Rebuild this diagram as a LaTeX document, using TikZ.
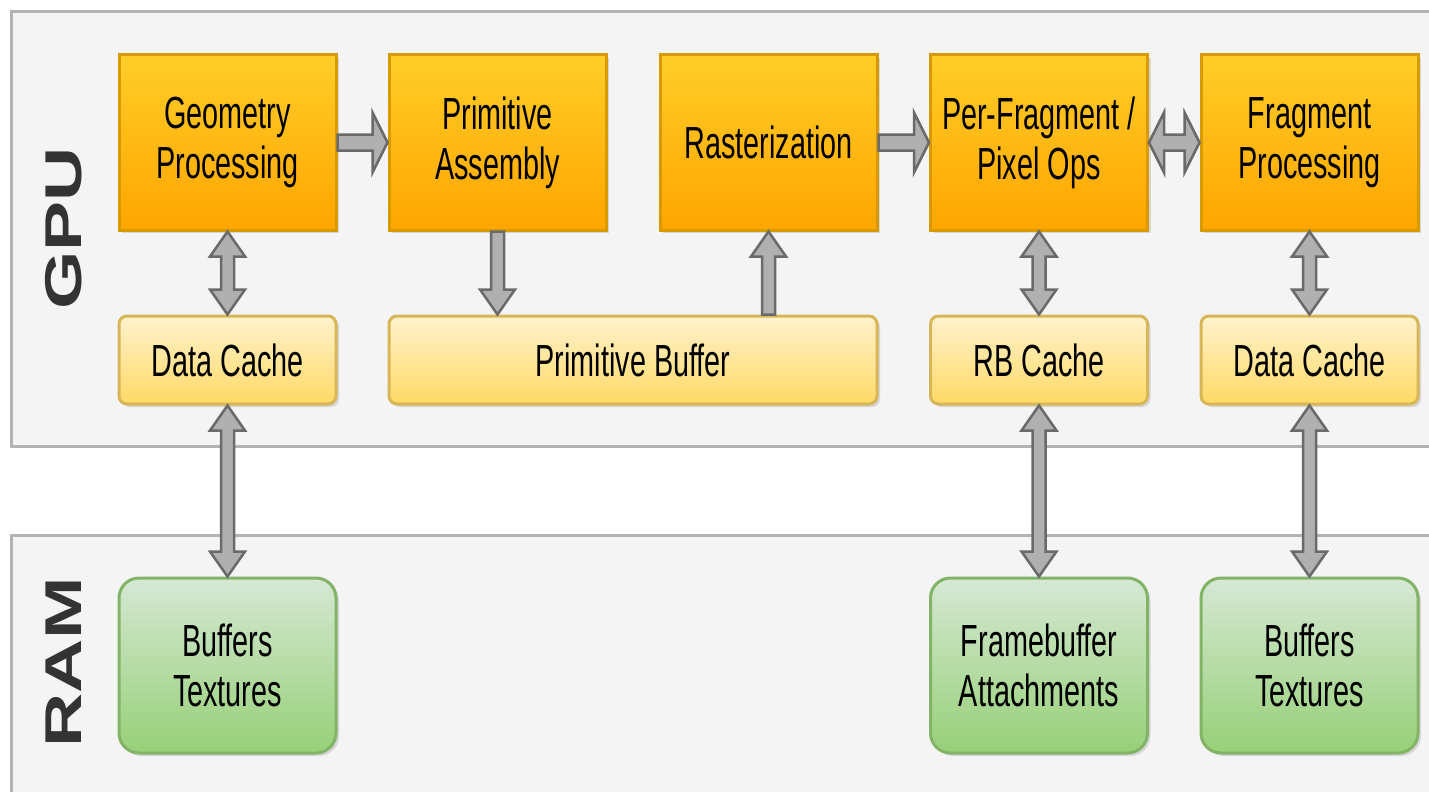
\documentclass[tikz,border=0pt]{standalone}
\usepackage{fontspec}
\setmainfont{Liberation Sans}[FakeStretch=0.64]
\newfontfamily\labfont{Liberation Sans}
\usetikzlibrary{calc,shadows}
\definecolor{panelfill}{HTML}{F4F4F4}
\definecolor{panelline}{HTML}{B3B3B3}
\definecolor{orgtop}{HTML}{FFCD28}
\definecolor{orgbot}{HTML}{FFA500}
\definecolor{orgline}{HTML}{D79B00}
\definecolor{yeltop}{HTML}{FFF2CC}
\definecolor{yelbot}{HTML}{FFD966}
\definecolor{yelline}{HTML}{D6B656}
\definecolor{grntop}{HTML}{D5E8D4}
\definecolor{grnbot}{HTML}{97D077}
\definecolor{grnline}{HTML}{82B366}
\definecolor{afill}{HTML}{B0B0B0}
\definecolor{astroke}{HTML}{6A6A6A}
\definecolor{labcol}{HTML}{333333}
\tikzset{
  panel/.style={draw=panelline, fill=panelfill, line width=3pt},
  shad/.style={drop shadow={shadow xshift=3pt, shadow yshift=-3pt, opacity=0.12, fill=black}},
  boxtext/.style={inner sep=0pt, align=center, text=black, font=\fontsize{45}{50}\selectfont},
  stage/.style={boxtext, shad, draw=orgline, line width=3pt, top color=orgtop, bottom color=orgbot, minimum width=217pt, minimum height=175pt},
  cachebox/.style={boxtext, shad, draw=yelline, line width=3pt, rounded corners=8pt, top color=yeltop, bottom color=yelbot, minimum width=217pt, minimum height=88pt},
  membox/.style={boxtext, shad, draw=grnline, line width=3pt, rounded corners=20pt, top color=grntop, bottom color=grnbot, minimum width=217pt, minimum height=175pt},
  grouplabel/.style={inner sep=0pt, text=labcol, font=\labfont\fontsize{75}{75}\selectfont\bfseries},
  flex/.style={draw=astroke, fill=afill, line width=2.5pt, line join=miter},
  vboth/.style={flex, to path={let \p1=(\tikztostart), \p2=(\tikztotarget) in
     (\x1,\y1) -- ({\x1+17.5pt},{\y1-25pt}) -- ({\x1+6.5pt},{\y1-25pt}) -- ({\x1+6.5pt},{\y2+25pt})
     -- ({\x1+17.5pt},{\y2+25pt}) -- (\x1,\y2) -- ({\x1-17.5pt},{\y2+25pt}) -- ({\x1-6.5pt},{\y2+25pt})
     -- ({\x1-6.5pt},{\y1-25pt}) -- ({\x1-17.5pt},{\y1-25pt}) -- cycle}},
  vone/.style={flex, to path={let \p1=(\tikztostart), \p2=(\tikztotarget), \n1={sign(\y1-\y2)} in
     ({\x1-6.5pt},\y1) -- ({\x1-6.5pt},{\y2+\n1*25pt}) -- ({\x1-17.5pt},{\y2+\n1*25pt}) -- (\x1,\y2)
     -- ({\x1+17.5pt},{\y2+\n1*25pt}) -- ({\x1+6.5pt},{\y2+\n1*25pt}) -- ({\x1+6.5pt},\y1) -- cycle}},
  hone/.style={flex, to path={let \p1=(\tikztostart), \p2=(\tikztotarget) in
     (\x1,{\y1+8pt}) -- ({\x2-15pt},{\y1+8pt}) -- ({\x2-15pt},{\y1+30pt}) -- (\x2,\y1)
     -- ({\x2-15pt},{\y1-30pt}) -- ({\x2-15pt},{\y1-8pt}) -- (\x1,{\y1-8pt}) -- cycle}},
  hboth/.style={flex, to path={let \p1=(\tikztostart), \p2=(\tikztotarget) in
     (\x1,\y1) -- ({\x1+15pt},{\y1+30pt}) -- ({\x1+15pt},{\y1+8pt}) -- ({\x2-15pt},{\y1+8pt})
     -- ({\x2-15pt},{\y1+30pt}) -- (\x2,\y1) -- ({\x2-15pt},{\y1-30pt}) -- ({\x2-15pt},{\y1-8pt})
     -- ({\x1+15pt},{\y1-8pt}) -- ({\x1+15pt},{\y1-30pt}) -- cycle}},
}
\begin{document}
\begin{tikzpicture}[x=1pt,y=-1pt]
\useasboundingbox (0,0) rectangle (1429,792);
\clip (0,0) rectangle (1429,792);
\fill[white] (0,0) rectangle (1429,792);
% panels
\draw[panel] (11.5,11.5) rectangle (1460,446.5);
\draw[panel] (11.5,535) rectangle (1460,830);
\node[grouplabel] (gpu) at (63.5,228.5) {\rotatebox{90}{\scalebox{1}[0.69]{GPU}}};
\node[grouplabel] (ram) at (63.5,662.5) {\rotatebox{90}{\scalebox{1}[0.69]{RAM}}};
% stages
\node[stage] (gp) at (227.5,142.5) {Geometry\\Processing};
\node[stage] (pa) at (497.5,142.5) {Primitive\\Assembly};
\node[stage] (ra) at (768.5,142.5) {Rasterization};
\node[stage] (pf) at (1039,142.5) {Per-Fragment /\\Pixel Ops};
\node[stage] (fp) at (1309.5,142.5) {Fragment\\Processing};
% caches
\node[cachebox] (dc1) at (227.5,360) {Data Cache};
\node[cachebox, minimum width=488pt] (pb) at (633,360) {Primitive Buffer};
\node[cachebox] (rb) at (1039,360) {RB Cache};
\node[cachebox] (dc2) at (1309.5,360) {Data Cache};
% memory
\node[membox] (bt1) at (227.5,665.5) {Buffers\\Textures};
\node[membox] (fb) at (1039,665.5) {Framebuffer\\Attachments};
\node[membox] (bt2) at (1309.5,665.5) {Buffers\\Textures};
% connectors
\draw[hone] (gp.east) to (pa.west);
\draw[hone] (ra.east) to (pf.west);
\draw[hboth] (pf.east) to (fp.west);
\draw[vboth] (gp.south) to (dc1.north);
\draw[vone] (pa.south) to (pa.south |- pb.north);
\draw[vone] (ra.south |- pb.north) to (ra.south);
\draw[vboth] (pf.south) to (rb.north);
\draw[vboth] (fp.south) to (dc2.north);
\draw[vboth] (dc1.south) to (bt1.north);
\draw[vboth] (rb.south) to (fb.north);
\draw[vboth] (dc2.south) to (bt2.north);
\end{tikzpicture}
\end{document}
